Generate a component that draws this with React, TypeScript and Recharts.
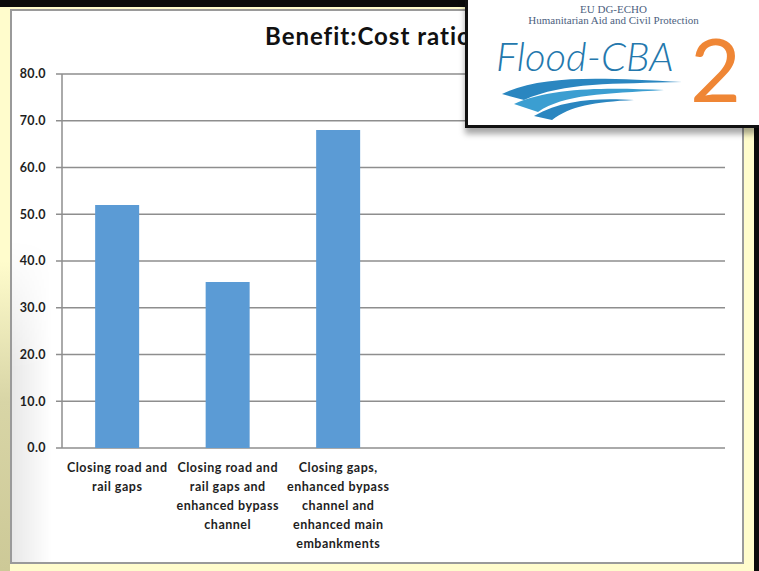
import { BarChart, Bar, XAxis, YAxis, CartesianGrid } from 'recharts';

// chart values
const categories = [
  'Closing road and\nrail gaps',
  'Closing road and\nrail gaps and\nenhanced bypass\nchannel',
  'Closing gaps,\nenhanced bypass\nchannel and\nenhanced main\nembankments',
  '',
  '',
  '',
];
const ratios = [52.0, 35.5, 68.0, null, null, null];
const yTicks = [0, 10, 20, 30, 40, 50, 60, 70, 80];
const edgeTicks = [0, 1, 2, 3, 4, 5, 6];
const title = 'Benefit:Cost ratio';

const data = categories.map((name, i) => ({ name, ratio: ratios[i], pos: i + 0.5 }));

const GRID = '#8e8e8e';
const FONT = 'Lato, "Open Sans", sans-serif';

function CategoryTick({ x, y, payload }: any) {
  const lines = String(payload.value).split('\n');
  return (
    <text
      x={x}
      y={y}
      textAnchor="middle"
      fontSize={12.5}
      letterSpacing={0.5}
      fontFamily={FONT}
      fontWeight={700}
      fill="#1e1e1e"
    >
      {lines.map((l, i) => (
        <tspan key={i} x={x} dy={i === 0 ? 24 : 19}>
          {l}
        </tspan>
      ))}
    </text>
  );
}

function Logo() {
  return (
    <div
      style={{
        position: 'absolute',
        left: 465,
        top: -4,
        width: 294,
        height: 132,
        background: '#fff',
        borderLeft: '3px solid #111',
        borderBottom: '3px solid #111',
        boxShadow: '0 6px 6px rgba(0,0,0,0.35)',
        boxSizing: 'border-box',
        fontFamily: '"Liberation Serif", serif',
        color: '#4d5f80',
        textAlign: 'center',
      }}
    >
      <div style={{ position: 'absolute', left: 0, right: 0, top: 8, fontSize: 11, lineHeight: '11px' }}>EU DG-ECHO</div>
      <div style={{ position: 'absolute', left: 0, right: 0, top: 19, fontSize: 11, lineHeight: '11px' }}>
        Humanitarian Aid and Civil Protection
      </div>
      <div
        style={{
          position: 'absolute',
          left: 28,
          top: 38,
          fontFamily: FONT,
          fontStyle: 'italic',
          fontWeight: 300,
          fontSize: 40,
          lineHeight: '44px',
          color: '#2478ad',
        }}
      >
        Flood-CBA
      </div>
      <div
        style={{
          position: 'absolute',
          left: 222,
          top: 26,
          fontFamily: FONT,
          fontWeight: 400,
          fontSize: 88,
          lineHeight: '92px',
          color: '#ef8635',
        }}
      >
        2
      </div>
      <svg width={200} height={50} style={{ position: 'absolute', left: 26, top: 76 }}>
        <path d="M8 22 C 50 2, 110 6, 188 10 C 120 12, 70 10, 30 28 Z" fill="#2a86c0" />
        <path d="M20 32 C 60 14, 120 16, 170 18 C 110 22, 70 22, 44 40 Z" fill="#3b9ed1" />
        <path d="M40 44 C 70 26, 110 26, 140 28 C 100 30, 76 34, 58 48 Z" fill="#2a86c0" />
      </svg>
    </div>
  );
}

export default function App() {
  return (
    <div style={{ position: 'absolute', left: 0, top: 0, width: 759, height: 571, overflow: 'hidden', background: '#fffccc' }}>
      {/* slide frame */}
      <div style={{ position: 'absolute', left: 0, top: 0, width: 759, height: 7, background: '#0b0b0b' }} />
      <div style={{ position: 'absolute', left: 754, top: 0, width: 5, height: 571, background: '#0b0b0b' }} />
      <div
        style={{
          position: 'absolute',
          left: 0,
          top: 7,
          width: 10,
          height: 564,
          background: 'linear-gradient(#fffccc 0%, #fffccc 45%, #d8d5a6 70%, #cdc997 100%)',
        }}
      />
      <div
        style={{
          position: 'absolute',
          left: 10,
          top: 9,
          width: 734,
          height: 555,
          background: '#fff',
          border: '2px solid #9a9a9a',
          boxSizing: 'border-box',
        }}
      />
      <div
        style={{
          position: 'absolute',
          left: 12,
          top: 240,
          width: 40,
          height: 322,
          background: 'linear-gradient(90deg, rgba(0,0,0,0.09), rgba(0,0,0,0))',
          WebkitMaskImage: 'linear-gradient(rgba(0,0,0,0), #000 40%)',
          maskImage: 'linear-gradient(rgba(0,0,0,0), #000 40%)',
        }}
      />
      <div
        style={{
          position: 'absolute',
          left: 265,
          top: 22,
          fontFamily: FONT,
          fontWeight: 700,
          fontSize: 24,
          lineHeight: '28px',
          letterSpacing: 1,
          color: '#111',
          whiteSpace: 'nowrap',
        }}
      >
        {title}
      </div>
      <div style={{ position: 'absolute', left: 0, top: 0 }}>
        <BarChart
          width={759}
          height={571}
          data={data}
          margin={{ top: 74, right: 34, bottom: 13, left: 12 }}
          barCategoryGap="30%"
        >
          <CartesianGrid vertical={false} stroke={GRID} strokeWidth={1.5} yAxisId="y" xAxisId="edge" />
          <XAxis
            xAxisId="edge"
            dataKey="pos"
            type="number"
            domain={[0, 6]}
            ticks={edgeTicks}
            tick={false}
            tickSize={5}
            height={0}
            stroke={GRID}
            strokeWidth={1.5}
          />
          <XAxis
            xAxisId="cat"
            dataKey="name"
            height={110}
            tickLine={false}
            axisLine={false}
            tickSize={0}
            tickMargin={0}
            interval={0}
            tick={<CategoryTick />}
          />
          <YAxis
            yAxisId="y"
            domain={[0, 80]}
            ticks={yTicks}
            width={50}
            tickSize={6}
            tickMargin={10}
            stroke={GRID}
            strokeWidth={1.5}
            tickFormatter={(v: number) => v.toFixed(1)}
            tick={{ fontSize: 12.5, letterSpacing: 0.4, fontFamily: FONT, fontWeight: 700, fill: '#1e1e1e' }}
          />
          <Bar dataKey="ratio" xAxisId="cat" yAxisId="y" fill="#5b9bd5" isAnimationActive={false} />
        </BarChart>
      </div>
      <Logo />
    </div>
  );
}
